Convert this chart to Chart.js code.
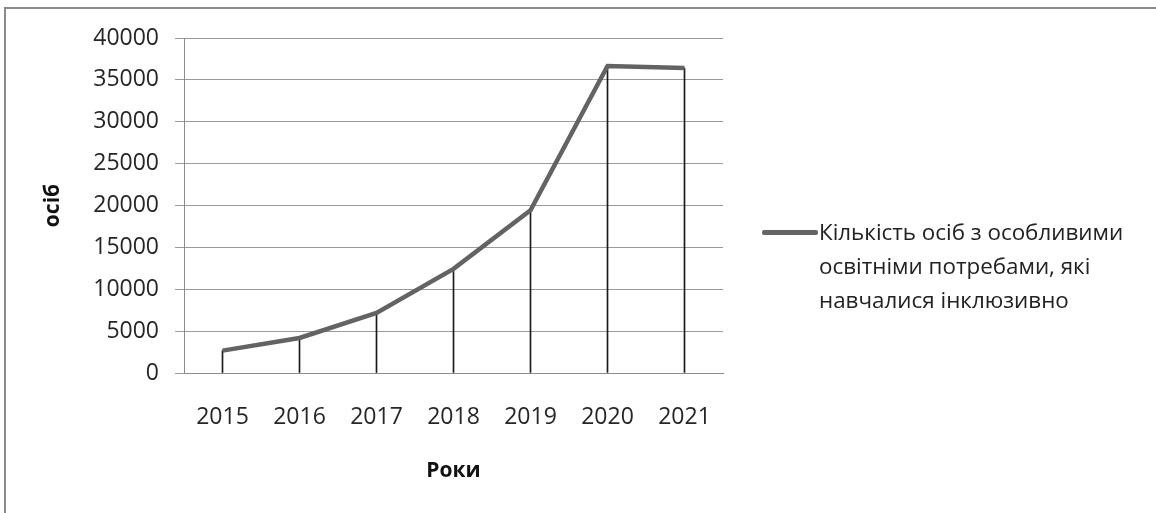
<!DOCTYPE html>
<html>
<head>
<meta charset="utf-8">
<script src="https://cdn.jsdelivr.net/npm/chart.js@4/dist/chart.umd.min.js"></script>
<style>
  html, body { margin: 0; padding: 0; background: #fff; }
  #wrap { position: relative; width: 1156px; height: 513px; overflow: hidden; }
  #frame { position: absolute; left: 4px; top: 7px; right: 0; bottom: 0;
           border-top: 2px solid #8a8a8a; border-left: 2px solid #8a8a8a; }
  canvas { position: absolute; left: 0; top: 0; }
  #legend { position: absolute; left: 762px; top: 215px; font-family: "Open Sans", sans-serif;
            font-size: 22.4px; line-height: 34px; color: #222; }
  #legend .sw { position: absolute; left: 0; top: 15px; width: 56px; height: 5px;
                background: #646464; border-radius: 2px; }
  #legend .tx { margin-left: 57px; white-space: nowrap; }
</style>
</head>
<body>
<div id="wrap">
  <div id="frame"></div>
  <canvas id="c" width="1156" height="513"></canvas>
  <div id="legend"><div class="sw"></div><div class="tx" id="legtext"></div></div>
</div>
<script>
const years = ["2015", "2016", "2017", "2018", "2019", "2020", "2021"];
const students = [2670, 4180, 7170, 12430, 19440, 36650, 36410];
const seriesName = ["Кількість осіб з особливими", "освітніми потребами, які", "навчалися інклюзивно"];
const yTitle = "осіб";
const xTitle = "Роки";

document.getElementById('legtext').innerHTML = seriesName.join('<br>');

const tickFont = { family: "Open Sans", size: 23 };
const titleFont = { family: "Open Sans", size: 21, weight: "bold" };

new Chart(document.getElementById('c'), {
  type: 'bar',
  data: {
    labels: years,
    datasets: [
      {
        type: 'line',
        label: seriesName.join(' '),
        data: students,
        borderColor: '#636363',
        borderWidth: 4.5,
        pointRadius: 0,
        tension: 0,
        order: 0
      },
      {
        type: 'bar',
        label: 'drop',
        data: students,
        backgroundColor: '#1a1a1a',
        barThickness: 1,
        order: 1
      }
    ]
  },
  options: {
    responsive: false,
    animation: false,
    layout: { padding: { left: 30, top: 38, right: 433, bottom: 20 } },
    plugins: { legend: { display: false }, tooltip: { enabled: false } },
    scales: {
      x: {
        offset: true,
        grid: { display: false },
        border: { display: true, color: '#8c8c8c', width: 1 },
        ticks: { font: tickFont, color: '#262626', padding: 23, maxRotation: 0 },
        title: { display: true, text: xTitle, font: titleFont, color: '#111', padding: { top: 0, bottom: 9 } },
        afterFit: s => { s.height = 120; }
      },
      y: {
        min: 0, max: 40000,
        grid: { color: '#9a9a9a', lineWidth: 1, tickLength: 9 },
        border: { display: true, color: '#8c8c8c', width: 1 },
        ticks: { stepSize: 5000, font: tickFont, color: '#262626', padding: 16,
                 callback: v => String(v) },
        title: { display: true, text: yTitle, font: titleFont, color: '#111', padding: { top: 10, bottom: 0 } },
        afterFit: s => { s.width = 154; }
      }
    }
  }
});
</script>
</body>
</html>
